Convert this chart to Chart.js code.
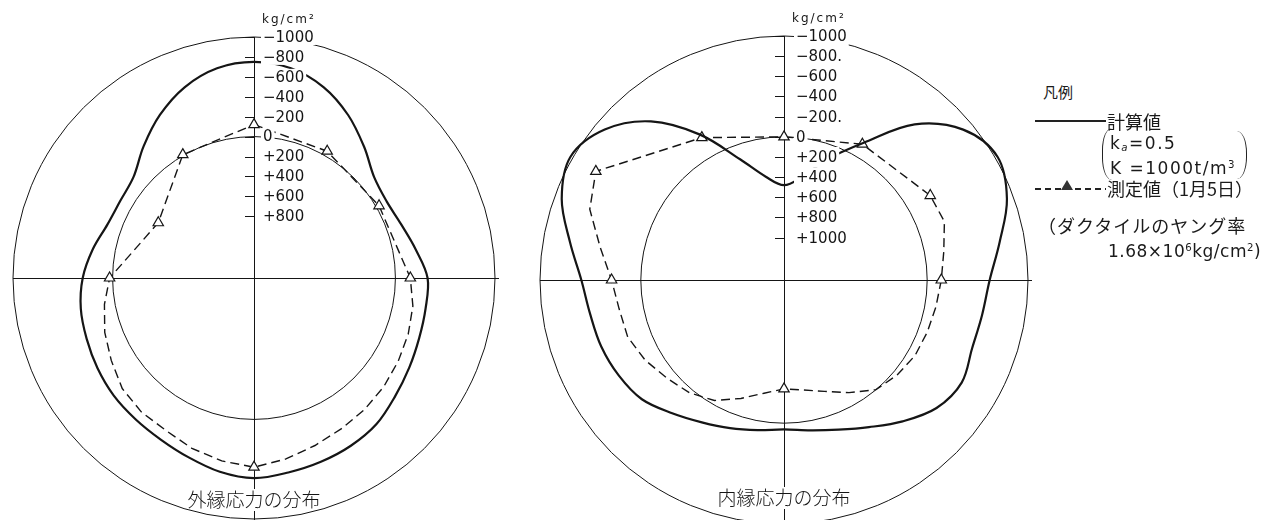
<!DOCTYPE html>
<html>
<head>
<meta charset="utf-8">
<script src="https://cdn.jsdelivr.net/npm/chart.js@4/dist/chart.umd.min.js"></script>
<style>
  html, body { margin: 0; padding: 0; background: #fff; }
  #page { position: relative; width: 1265px; height: 520px; overflow: hidden; background: #fff; }
  canvas { position: absolute; top: 0; }
  #outerChart { left: 0; }
  #innerChart { left: 520px; }
  .lg { position: absolute; color: #1a1a1a; white-space: nowrap; line-height: 1;
        font-family: "DejaVu Sans", "Noto Sans CJK JP", sans-serif; }
  .jp { font-family: "Noto Sans CJK JP", sans-serif; font-weight: 400; }
  .lg sub { font-size: 0.6em; font-style: italic; vertical-align: -0.15em; }
  .lg sup { font-size: 0.6em; vertical-align: 0.6em; }
  .rule { position: absolute; height: 1.6px; }
  .solid { background: #222; }
  .dashed { background: repeating-linear-gradient(90deg, #222 0 6px, transparent 6px 10px); }
  .paren { position: absolute; width: 9px; }
  .paren.l { border-left: 1.3px solid #222; border-radius: 12px 0 0 12px / 26px 0 0 26px; }
  .paren.r { border-right: 1.3px solid #222; border-radius: 0 12px 12px 0 / 0 26px 26px 0; }
  .tri { position: absolute; width: 0; height: 0;
         border-left: 6px solid transparent; border-right: 6px solid transparent;
         border-bottom: 10px solid #333; }
</style>
</head>
<body>
<div id="page">
  <canvas id="outerChart" width="520" height="540"></canvas>
  <canvas id="innerChart" width="520" height="540"></canvas>

  <div class="lg jp" style="left:1043px;top:84px;font-size:15px;">凡例</div>
  <div class="rule solid" style="left:1035px;top:120px;width:71px;"></div>
  <div class="lg jp" style="left:1107px;top:112px;font-size:18px;">計算値</div>
  <div class="paren l" style="left:1102px;top:128px;height:52px;"></div>
  <div class="lg" style="left:1110px;top:135px;font-size:17px;letter-spacing:1.5px;">k<sub>a</sub>=0.5</div>
  <div class="lg" style="left:1110px;top:160px;font-size:17px;letter-spacing:1.5px;">K =1000t/m<sup>3</sup></div>
  <div class="paren r" style="left:1237px;top:131px;height:48px;"></div>
  <div class="rule dashed" style="left:1035px;top:188px;width:71px;"></div>
  <div class="tri" style="left:1061px;top:180px;"></div>
  <div class="lg jp" style="left:1107px;top:179px;font-size:18px;">測定値（1月5日）</div>
  <div class="lg jp" style="left:1038px;top:216px;font-size:18px;letter-spacing:1px;">（ダクタイルのヤング率</div>
  <div class="lg" style="left:1108px;top:243px;font-size:17px;letter-spacing:0.5px;">1.68×10<sup>6</sup>kg/cm<sup>2</sup>)</div>
</div>

<script>
// Angular positions around the section, clockwise from the crown (degrees)
const angles = [0, 10, 20, 30, 40, 50, 60, 70, 80, 90, 100, 110,
                120, 130, 140, 150, 160, 170, 180, 190, 200, 210, 220, 230,
                240, 250, 260, 270, 280, 290, 300, 310, 320, 330, 340, 350];

// Outer-edge stress, kg/cm² (negative = compression, drawn outward)
const outerCalculated = [-750, -718, -620, -470, -300, -155, -118, -153, -229, -323, -330, -345,
                         -380, -429, -494, -525, -544, -563, -590, -556, -497, -453, -431, -418,
                         -394, -368, -346, -300, -225, -147, -130, -159, -305, -470, -618, -718];
const outerMeasured = [-120, null, null, -50, null, null, -30, null, null, -150, -200, -228,
                       -252, -280, -305, -330, -370, -425, -480, -445, -401, -348, -338, -307,
                       -235, -175, -105, -30, null, null, 310, null, null, -10, null, null];
const outerMeasuredAt = [0, 30, 60, 90, 180, 270, 300, 330];

// Inner-edge stress, kg/cm²
const innerCalculated = [480, 380, 140, -150, -596, -900, -1025, -933, -752, -620, -575, -565,
                         -615, -555, -410, -265, -160, -95, -62, -92, -144, -210, -305, -420,
                         -473, -509, -532, -590, -735, -926, -1025, -901, -633, -245, 146, 380];
const innerMeasured = [0, null, null, -135, null, null, -255, -273, -189, -140, -110, -92,
                       -80, -45, 0, 130, 244, 313, 340, 280, 170, 40, -40, -95,
                       -170, -230, -240, -290, -430, -630, -735, null, null, -210, null, null];
const innerMeasuredAt = [0, 30, 60, 90, 180, 270, 300, 330];

// Radial axis (stress scale) ticks and their printed labels
const outerTickValues = [-1000, -800, -600, -400, -200, 0, 200, 400, 600, 800];
const outerTickLabels = ['−1000', '−800', '−600', '−400', '−200', '0', '+200', '+400', '+600', '+800'];
const innerTickValues = [-1000, -800, -600, -400, -200, 0, 200, 400, 600, 800, 1000];
const innerTickLabels = ['−1000', '−800.', '−600', '−400', '−200.', '0', '+200', '+400', '+600', '+800', '+1000'];

// Reference circles: the outer boundary and the zero-stress line
const circleValues = [-1000, 0];

const unitLabel = 'kg/cm²';
const INK = '#151515';

const polarDecor = {
  id: 'polarDecor',
  beforeDatasetsDraw(chart, args, o) {
    const s = chart.scales.r, ctx = chart.ctx;
    const cx = s.xCenter, cy = s.yCenter, R = s.drawingArea;
    ctx.save();
    ctx.strokeStyle = INK;
    ctx.lineWidth = 1;
    ctx.beginPath();
    ctx.moveTo(cx - R, cy + 0.5);
    ctx.lineTo(cx + R + 4, cy + 0.5);
    ctx.moveTo(cx + 0.5, cy - R);
    ctx.lineTo(cx + 0.5, chart.height);
    o.tickValues.forEach(v => {
      const y = Math.round(cy - s.getDistanceFromCenterForValue(v)) + 0.5;
      ctx.moveTo(cx - 9, y);
      ctx.lineTo(cx, y);
    });
    ctx.stroke();
    ctx.restore();
  },
  afterDatasetsDraw(chart, args, o) {
    const s = chart.scales.r, ctx = chart.ctx;
    const cx = s.xCenter, cy = s.yCenter, R = s.drawingArea;
    ctx.save();
    ctx.font = '15px "DejaVu Sans", sans-serif';
    ctx.textBaseline = 'middle';
    ctx.textAlign = 'left';
    o.tickValues.forEach((v, i) => {
      const y = cy - s.getDistanceFromCenterForValue(v);
      const txt = o.tickLabels[i];
      const w = ctx.measureText(txt).width;
      ctx.fillStyle = '#fff';
      ctx.fillRect(cx + o.labelGap - 2, y - o.boxHalf, w + 4, o.boxHalf * 2);
      ctx.fillStyle = INK;
      ctx.fillText(txt, cx + o.labelGap, y + 1);
    });
    // unit above the scale
    ctx.font = '12px "DejaVu Sans", sans-serif';
    ctx.letterSpacing = '2px';
    ctx.fillText(unitLabel, cx + 8, cy - R - 17);
    ctx.letterSpacing = '0px';
    // caption near the bottom of the circle
    ctx.font = '300 19px "Noto Sans CJK JP", sans-serif';
    ctx.textAlign = 'center';
    const ty = cy + o.captionDrop;
    ctx.fillStyle = '#fff';
    ctx.fillRect(cx - 3, ty - 11, 7, 22);
    ctx.fillStyle = INK;
    ctx.fillText(o.caption, cx, ty);
    ctx.restore();
  }
};

function stressChart(canvasId, cfg) {
  return new Chart(document.getElementById(canvasId), {
    type: 'radar',
    data: {
      labels: angles.map(a => a + '°'),
      datasets: [
        {
          label: '計算値',
          data: cfg.calculated,
          borderColor: INK,
          borderWidth: 2.2,
          pointRadius: 0,
          tension: 0.35,
          fill: false
        },
        {
          label: '測定値',
          data: cfg.measured,
          borderColor: INK,
          borderWidth: 1.4,
          borderDash: [9, 5],
          tension: 0,
          spanGaps: true,
          fill: false,
          pointStyle: 'triangle',
          pointRadius: c => cfg.measuredAt.includes(angles[c.dataIndex]) ? 6 : 0,
          pointBackgroundColor: '#fff',
          pointBorderColor: INK,
          pointBorderWidth: 1.2
        }
      ]
    },
    options: {
      responsive: false,
      animation: false,
      events: [],
      layout: { padding: cfg.padding },
      plugins: {
        legend: { display: false },
        tooltip: { enabled: false },
        polarDecor: {
          tickValues: cfg.tickValues,
          tickLabels: cfg.tickLabels,
          labelGap: cfg.labelGap,
          boxHalf: cfg.boxHalf,
          caption: cfg.caption,
          captionDrop: cfg.captionDrop
        }
      },
      scales: {
        r: {
          min: -1000,
          max: 1420,
          reverse: true,
          startAngle: 0,
          angleLines: { display: false },
          grid: { circular: true, color: INK, lineWidth: 1 },
          pointLabels: { display: false },
          ticks: { display: false },
          afterBuildTicks: sc => { sc.ticks = circleValues.map(v => ({ value: v })); }
        }
      }
    },
    plugins: [polarDecor]
  });
}

stressChart('outerChart', {
  calculated: outerCalculated,
  measured: outerMeasured,
  measuredAt: outerMeasuredAt,
  tickValues: outerTickValues,
  tickLabels: outerTickLabels,
  labelGap: 9,
  boxHalf: 8,
  caption: '外縁応力の分布',
  captionDrop: 222,
  padding: { left: 13, top: 37, right: 25, bottom: 21 }
});

stressChart('innerChart', {
  calculated: innerCalculated,
  measured: innerMeasured,
  measuredAt: innerMeasuredAt,
  tickValues: innerTickValues,
  tickLabels: innerTickLabels,
  labelGap: 12,
  boxHalf: 10,
  caption: '内縁応力の分布',
  captionDrop: 218,
  padding: { left: 20, top: 36, right: 12, bottom: 16 }
});
</script>
</body>
</html>
